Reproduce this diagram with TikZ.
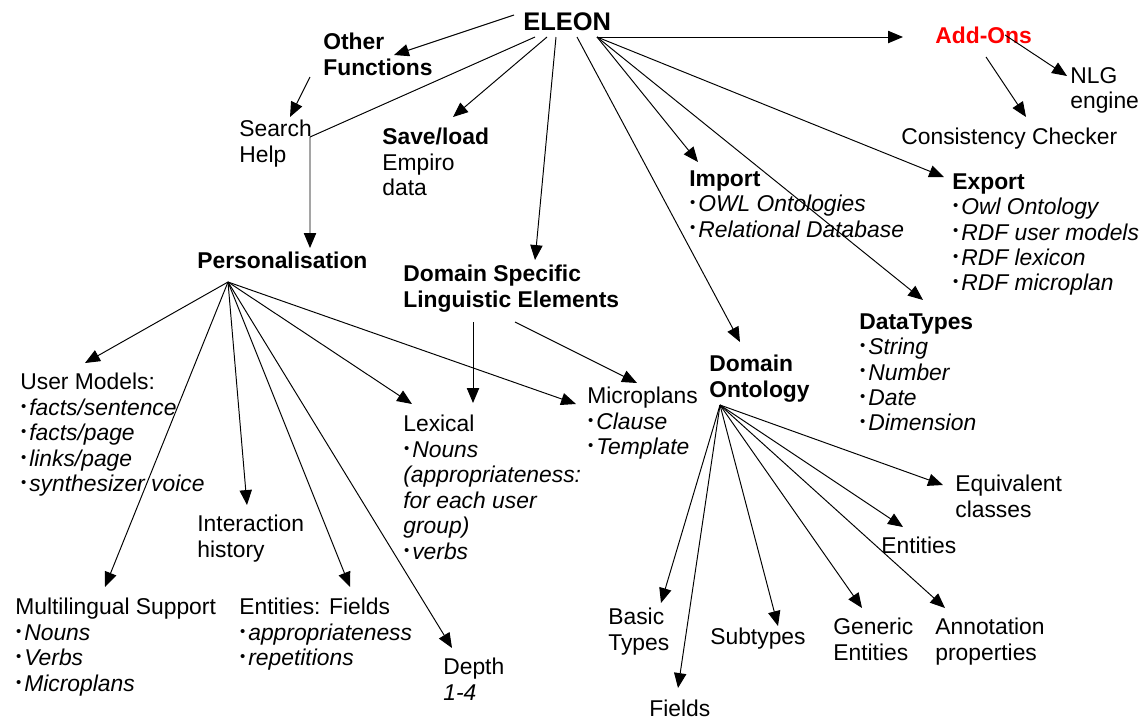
\documentclass[tikz,border=0pt]{standalone}
\usepackage{fontspec}
\setmainfont{Liberation Sans}
\usetikzlibrary{arrows.meta}

\newcommand{\itm}{\hspace{0.4pt}\makebox[4.7pt][l]{\raisebox{2.4pt}{\fontsize{8.5}{8.5}\selectfont\textbullet}}}

\tikzset{
  txt/.style={anchor=north west, inner sep=0pt, align=left, font=\fontsize{13}{14.5}\selectfont},
  hd/.style={txt, font=\fontsize{13}{14.5}\selectfont\bfseries},
  arr/.style={-{Triangle[length=8.5pt,width=7pt]}, line width=0.55pt},
}

\begin{document}
\begin{tikzpicture}[x=0.02cm, y=-0.02cm]
    \useasboundingbox (0,0) rectangle (1148,721);

    % top level
    \node[txt, font=\fontsize{14.5}{17}\selectfont\bfseries] (eleon) at (523,12) {ELEON};
    \node[hd] (other) at (323,33) {Other\\Functions};
    \node[txt] (search) at (239,120) {Search\\Help};
    \node[txt] (save) at (382,128) {\textbf{Save/load}\\Empiro\\data};
    \node[hd] (pers) at (197,252) {Personalisation};
    \node[hd] (dsle) at (403,265) {Domain Specific\\Linguistic Elements};
    \node[txt] (imp) at (689,170) {\textbf{Import}\\\itm\textit{OWL Ontologies}\\\itm\textit{Relational Database}};
    \node[txt] (exp) at (952,173) {\textbf{Export}\\\itm\textit{Owl Ontology}\\\itm\textit{RDF user models}\\\itm\textit{RDF lexicon}\\\itm\textit{RDF microplan}};
    \node[hd, text=red] (addons) at (935,27) {Add-Ons};
    \node[txt] (nlg) at (1070,67) {NLG\\engine};
    \node[txt] (cons) at (901,128) {Consistency Checker};
    \node[txt] (dtypes) at (859,313) {\textbf{DataTypes}\\\itm\textit{String}\\\itm\textit{Number}\\\itm\textit{Date}\\\itm\textit{Dimension}};
    \node[hd] (domont) at (709,355) {Domain\\Ontology};

    % personalisation and linguistic elements
    \node[txt] (um) at (20,373) {User Models:\\\itm\textit{facts/sentence}\\\itm\textit{facts/page}\\\itm\textit{links/page}\\\itm\textit{synthesizer voice}};
    \node[txt] (inter) at (197,515) {Interaction\\history};
    \node[txt] (multi) at (15,598) {Multilingual Support\\\itm\textit{Nouns}\\\itm\textit{Verbs}\\\itm\textit{Microplans}};
    \node[txt] (entf) at (239,598) {Entities: Fields\\\itm\textit{appropriateness}\\\itm\textit{repetitions}};
    \node[txt] (depth) at (443,658) {Depth\\\textit{1-4}};
    \node[txt] (lex) at (403,415) {Lexical\\\itm\textit{Nouns}\\\textit{(appropriateness:}\\\textit{for each user}\\\textit{group)}\\\itm\textit{verbs}};
    \node[txt] (micro) at (587,387) {Microplans\\\itm\textit{Clause}\\\itm\textit{Template}};

    % ontology
    \node[txt] (basic) at (608,608) {Basic\\Types};
    \node[txt] (fields) at (649,700) {Fields};
    \node[txt] (subt) at (710,628) {Subtypes};
    \node[txt] (gen) at (833,618) {Generic\\Entities};
    \node[txt] (ann) at (935,618) {Annotation\\properties};
    \node[txt] (ents) at (881,537) {Entities};
    \node[txt] (eqc) at (955,475) {Equivalent\\classes};

    \coordinate (eb) at ([shift={(74,25)}]eleon.north west);
    \coordinate (ph) at ([shift={(31,30)}]pers.north west);
    \coordinate (oh) at ([shift={(11,50)}]domont.north west);

    \draw[arr] ([shift={(-9,3)}]eleon.north west) -- ([shift={(71,22)}]other.north west);
    \draw[arr] ([shift={(-13,44)}]other.north west) -- ([shift={(51,-3)}]search.north west);
    \draw[arr] ([shift={(12,25)}]eleon.north west) -- ([shift={(71,17)}]search.north west) -- ([shift={(113,-4)}]pers.north west);
    \draw[arr] ([shift={(24,25)}]eleon.north west) -- ([shift={(71,-11)}]save.north west);
    \draw[arr] ([shift={(33,25)}]eleon.north west) -- ([shift={(132,-5)}]dsle.north west);
    \draw[arr] ([shift={(54,25)}]eleon.north west) -- ([shift={(31,-13)}]domont.north west);
    \foreach \n/\dx/\dy in {imp/9/-8, dtypes/64/-13, exp/-8/4, addons/-32/10}
      \draw[arr] (eb) -- ([shift={(\dx,\dy)}]\n.north west);

    \draw[arr] ([shift={(70,8)}]addons.north west) -- ([shift={(-3,9)}]nlg.north west);
    \draw[arr] ([shift={(51,30)}]addons.north west) -- ([shift={(125,-11)}]cons.north west);

    \foreach \n/\dx/\dy in {um/65/-10, multi/90/-11, inter/50/-10, entf/111/-11, depth/9/-10, lex/9/-11, micro/-11/17}
      \draw[arr] (ph) -- ([shift={(\dx,\dy)}]\n.north west);

    \draw[arr] ([shift={(70,57)}]dsle.north west) -- ([shift={(70,-12)}]lex.north west);
    \draw[arr] ([shift={(112,57)}]dsle.north west) -- ([shift={(50,-4)}]micro.north west);

    \foreach \n/\dx/\dy in {basic/53/-5, fields/29/-12, subt/68/-2, gen/29/-10, ann/10/-10, ents/22/-10, eqc/-12/10}
      \draw[arr] (oh) -- ([shift={(\dx,\dy)}]\n.north west);

\end{tikzpicture}
\end{document}
